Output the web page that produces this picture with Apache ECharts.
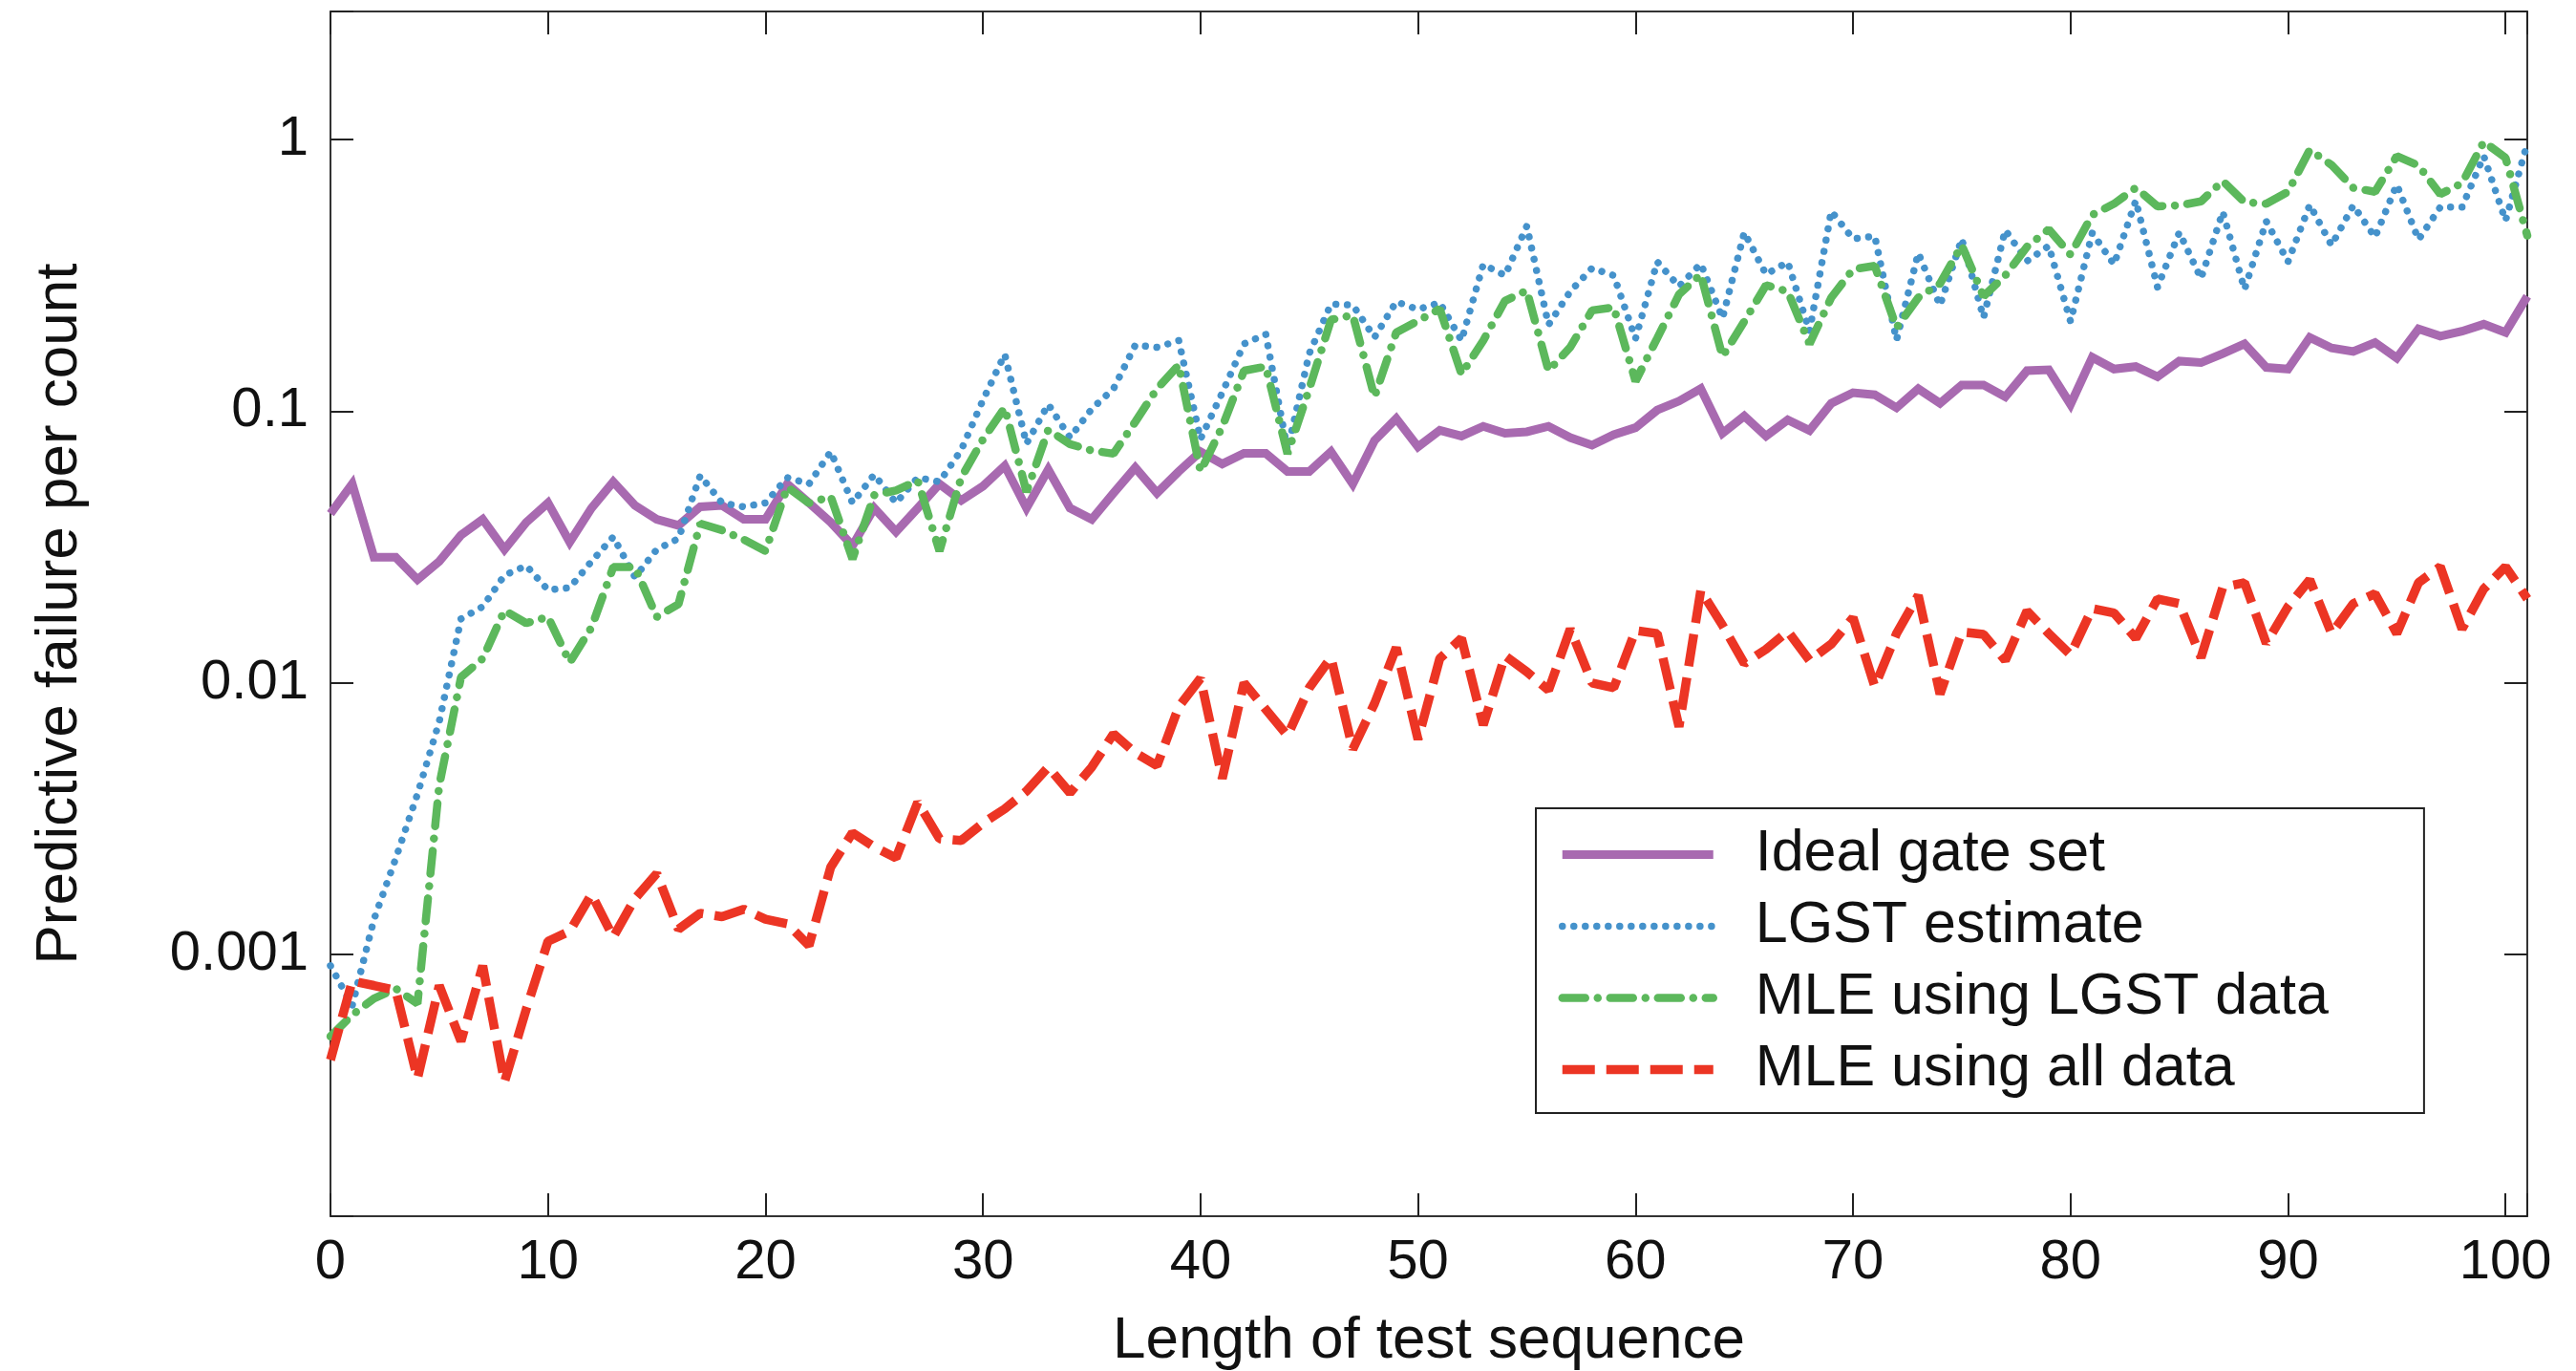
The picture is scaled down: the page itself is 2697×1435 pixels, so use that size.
<!DOCTYPE html>
<html lang="en">
<head>
<meta charset="utf-8" />
<title>Predictive failure per count</title>
<script src="https://cdn.jsdelivr.net/npm/echarts@6/dist/echarts.min.js"></script>
<style>
  html, body { margin: 0; padding: 0; background: #fff; }
  #container { width: 2697px; height: 1435px; }
</style>
</head>
<body>
<div id="container"></div>
<script>
var lengths = [0, 1, 2, 3, 4, 5, 6, 7, 8, 9, 10, 11, 12, 13, 14, 15, 16, 17, 18, 19,
    20, 21, 22, 23, 24, 25, 26, 27, 28, 29, 30, 31, 32, 33, 34, 35, 36, 37, 38, 39,
    40, 41, 42, 43, 44, 45, 46, 47, 48, 49, 50, 51, 52, 53, 54, 55, 56, 57, 58, 59,
    60, 61, 62, 63, 64, 65, 66, 67, 68, 69, 70, 71, 72, 73, 74, 75, 76, 77, 78, 79,
    80, 81, 82, 83, 84, 85, 86, 87, 88, 89, 90, 91, 92, 93, 94, 95, 96, 97, 98, 99,
    100, 101];

var seriesNames = ['Ideal gate set', 'LGST estimate', 'MLE using LGST data', 'MLE using all data'];

var ideal = [0.042, 0.054, 0.029, 0.029, 0.024, 0.028, 0.035, 0.040, 0.031, 0.039,
    0.046, 0.033, 0.044, 0.055, 0.045, 0.040, 0.038, 0.0445, 0.045, 0.040,
    0.040, 0.054, 0.046, 0.039, 0.032, 0.044, 0.036, 0.044, 0.054, 0.047,
    0.053, 0.063, 0.044, 0.061, 0.044, 0.040, 0.050, 0.062, 0.050, 0.060,
    0.071, 0.064, 0.070, 0.070, 0.060, 0.060, 0.071, 0.054, 0.078, 0.094,
    0.074, 0.085, 0.081, 0.088, 0.083, 0.084, 0.088, 0.080, 0.075, 0.082,
    0.087, 0.101, 0.109, 0.121, 0.083, 0.096, 0.081, 0.093, 0.085, 0.107,
    0.117, 0.115, 0.103, 0.121, 0.107, 0.125, 0.125, 0.113, 0.141, 0.142,
    0.106, 0.158, 0.143, 0.146, 0.134, 0.153, 0.151, 0.163, 0.177, 0.145,
    0.143, 0.187, 0.171, 0.166, 0.179, 0.157, 0.201, 0.189, 0.197, 0.209,
    0.195, 0.265];

var lgst = [0.00091, 0.00065, 0.00135, 0.00226, 0.0039, 0.0072, 0.0172, 0.0191, 0.0249, 0.027,
    0.022, 0.0224, 0.028, 0.0345, 0.0245, 0.031, 0.034, 0.058, 0.046, 0.0445,
    0.046, 0.057, 0.054, 0.071, 0.046, 0.0585, 0.046, 0.057, 0.055, 0.072,
    0.110, 0.162, 0.076, 0.106, 0.080, 0.102, 0.121, 0.175, 0.172, 0.182,
    0.079, 0.117, 0.177, 0.192, 0.072, 0.163, 0.248, 0.246, 0.187, 0.253,
    0.237, 0.251, 0.182, 0.347, 0.316, 0.480, 0.208, 0.276, 0.336, 0.316,
    0.185, 0.355, 0.288, 0.349, 0.220, 0.455, 0.319, 0.354, 0.197, 0.545,
    0.431, 0.441, 0.183, 0.382, 0.245, 0.431, 0.221, 0.464, 0.357, 0.406,
    0.214, 0.453, 0.347, 0.596, 0.286, 0.455, 0.308, 0.542, 0.281, 0.500,
    0.355, 0.575, 0.408, 0.572, 0.437, 0.682, 0.428, 0.564, 0.564, 0.869,
    0.503, 0.968];

var mleLgst = [0.0005, 0.0006, 0.00069, 0.00075, 0.00066, 0.0042, 0.0105, 0.0123, 0.0185, 0.0166,
    0.0175, 0.0119, 0.016, 0.0267, 0.0267, 0.0175, 0.0195, 0.0386, 0.0365, 0.0337,
    0.0306, 0.0526, 0.0459, 0.0485, 0.0286, 0.0491, 0.0511, 0.0555, 0.0306, 0.057,
    0.0788, 0.103, 0.0505, 0.0854, 0.0757, 0.0717, 0.0698, 0.0914, 0.121, 0.148,
    0.0601, 0.0877, 0.141, 0.146, 0.0698, 0.121, 0.217, 0.226, 0.113, 0.195,
    0.215, 0.238, 0.137, 0.182, 0.255, 0.278, 0.141, 0.172, 0.235, 0.241,
    0.129, 0.186, 0.269, 0.319, 0.159, 0.214, 0.291, 0.276, 0.177, 0.262,
    0.333, 0.343, 0.203, 0.262, 0.295, 0.408, 0.265, 0.316, 0.403, 0.467,
    0.377, 0.528, 0.580, 0.664, 0.568, 0.572, 0.592, 0.704, 0.588, 0.580,
    0.642, 0.917, 0.806, 0.664, 0.642, 0.869, 0.802, 0.629, 0.691, 0.981,
    0.857, 0.443];

var mleAll = [0.00041, 0.0008, 0.00077, 0.00074, 0.00035, 0.00077, 0.00048, 0.00091, 0.00034, 0.00063,
    0.00112, 0.00122, 0.00167, 0.00116, 0.00161, 0.00199, 0.00124, 0.00142, 0.00138, 0.00147,
    0.00135, 0.0013, 0.00108, 0.0021, 0.00281, 0.00249, 0.00227, 0.00364, 0.00267, 0.00263,
    0.00305, 0.00344, 0.004, 0.0049, 0.00394, 0.0049, 0.0065, 0.00553, 0.00496, 0.00817,
    0.0104, 0.00445, 0.01, 0.008, 0.0064, 0.0096, 0.0124, 0.0057, 0.0084, 0.0135,
    0.0062, 0.0123, 0.0146, 0.0070, 0.0126, 0.011, 0.0094, 0.0158, 0.010, 0.0096,
    0.0156, 0.0152, 0.0069, 0.0219, 0.0163, 0.0118, 0.0133, 0.0155, 0.0121, 0.0139,
    0.0174, 0.0097, 0.0152, 0.021, 0.0091, 0.0154, 0.0151, 0.0121, 0.0184, 0.0152,
    0.0127, 0.0188, 0.0181, 0.0146, 0.0204, 0.0196, 0.0124, 0.0225, 0.0234, 0.014,
    0.0191, 0.024, 0.0152, 0.0196, 0.0213, 0.0152, 0.0234, 0.0268, 0.0158, 0.0222,
    0.0268, 0.0204];

var xTicks = [0, 10, 20, 30, 40, 50, 60, 70, 80, 90, 100];
var yTickExps = [-3, -2, -1, 0];
var yTickLabels = ['0.001', '0.01', '0.1', '1'];

var font = '"Liberation Sans", Arial, Helvetica, sans-serif';
var frameColor = '#333';

function pairs(values) {
    return values.map(function (v, i) { return [lengths[i], v]; });
}

function xLabel(v) {
    var r = Math.round(v);
    return xTicks.indexOf(r) >= 0 && Math.abs(v - r) < 1e-6 ? String(r) : '';
}

function yLabel(v) {
    var e = Math.log10(v);
    var k = Math.round(e);
    if (Math.abs(e - k) > 1e-6) return '';
    var idx = yTickExps.indexOf(k);
    return idx < 0 ? '' : yTickLabels[idx];
}

var myChart = echarts.init(document.getElementById('container'));

var option = {
    backgroundColor: '#fff',
    animation: false,
    textStyle: { fontFamily: font },
    grid: {
        left: 346,
        right: 51,
        top: 12,
        bottom: 162,
        containLabel: false,
        outerBoundsMode: 'none'
    },
    legend: {
        orient: 'vertical',
        left: 1608,
        top: 846,
        padding: [18, 100, 15, 23],
        itemWidth: 158,
        itemHeight: 20,
        itemGap: 14,
        borderColor: '#222',
        borderWidth: 2,
        backgroundColor: '#fff',
        textStyle: {
            fontSize: 61,
            lineHeight: 60,
            color: '#111',
            fontFamily: font,
            padding: [0, 0, 0, 39]
        },
        itemStyle: { opacity: 0 },
        lineStyle: { width: 'inherit' },
        data: seriesNames
    },
    xAxis: [{
        type: 'value',
        min: 0,
        max: 101,
        interval: 10,
        name: 'Length of test sequence',
        nameLocation: 'middle',
        nameGap: 100,
        nameTextStyle: { fontSize: 62, color: '#111', fontFamily: font },
        axisLine: { show: true, onZero: false, lineStyle: { color: frameColor, width: 2 } },
        axisTick: { show: true, inside: true, length: 24, lineStyle: { color: '#222', width: 2 } },
        axisLabel: { fontSize: 58, color: '#111', margin: 20, formatter: xLabel, fontFamily: font },
        splitLine: { show: false }
    }, {
        type: 'value',
        position: 'top',
        min: 0,
        max: 101,
        interval: 10,
        axisLine: { show: true, onZero: false, lineStyle: { color: frameColor, width: 2 } },
        axisTick: { show: true, inside: true, length: 24, lineStyle: { color: '#222', width: 2 } },
        axisLabel: { show: false },
        splitLine: { show: false }
    }],
    yAxis: [{
        type: 'log',
        logBase: 10,
        min: 1.09e-4,
        max: 2.96,
        name: 'Predictive failure per count',
        nameLocation: 'middle',
        nameGap: 252,
        nameTextStyle: { fontSize: 62, color: '#111', fontFamily: font },
        axisLine: { show: true, onZero: false, lineStyle: { color: frameColor, width: 2 } },
        axisTick: { show: true, inside: true, length: 24, lineStyle: { color: '#222', width: 2 } },
        axisLabel: { fontSize: 58, color: '#111', margin: 23, formatter: yLabel, fontFamily: font },
        minorTick: { show: false },
        splitLine: { show: false }
    }, {
        type: 'log',
        logBase: 10,
        position: 'right',
        min: 1.09e-4,
        max: 2.96,
        axisLine: { show: true, onZero: false, lineStyle: { color: frameColor, width: 2 } },
        axisTick: { show: true, inside: true, length: 24, lineStyle: { color: '#222', width: 2 } },
        axisLabel: { show: false },
        splitLine: { show: false }
    }],
    series: [
        {
            name: seriesNames[0],
            type: 'line',
            symbol: 'none',
            data: pairs(ideal),
            lineStyle: { color: '#a86ab0', width: 9, type: 'solid', join: 'miter' },
            itemStyle: { color: '#a86ab0' }
        },
        {
            name: seriesNames[1],
            type: 'line',
            symbol: 'none',
            data: pairs(lgst),
            lineStyle: { color: '#4592cb', width: 7.5, type: [0.01, 12], cap: 'round' },
            itemStyle: { color: '#4592cb' }
        },
        {
            name: seriesNames[2],
            type: 'line',
            symbol: 'none',
            data: pairs(mleLgst),
            lineStyle: { color: '#5cb85c', width: 8.5, type: [24, 13, 0.01, 13], cap: 'round' },
            itemStyle: { color: '#5cb85c' }
        },
        {
            name: seriesNames[3],
            type: 'line',
            symbol: 'none',
            data: pairs(mleAll),
            lineStyle: { color: '#ec3524', width: 9.5, type: [34, 12] },
            itemStyle: { color: '#ec3524' }
        }
    ]
};

myChart.setOption(option);
</script>
</body>
</html>
